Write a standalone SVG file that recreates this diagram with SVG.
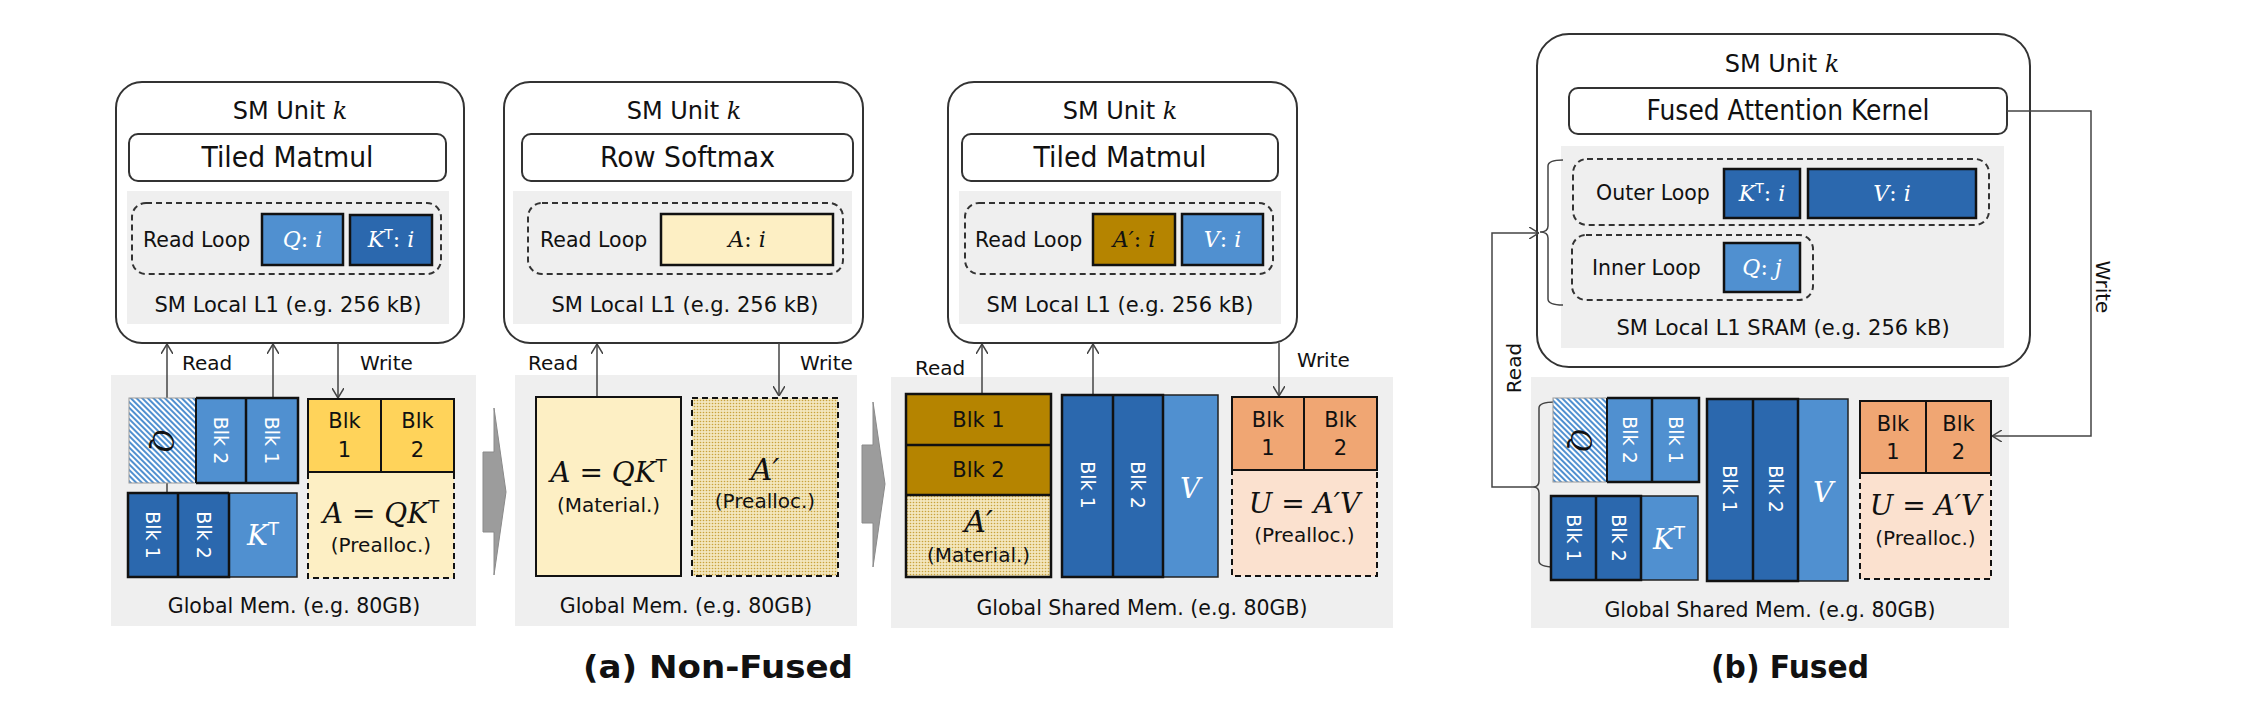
<svg xmlns="http://www.w3.org/2000/svg" width="2242" height="704" viewBox="0 0 2242 704">
<style>
.t{font-family:"DejaVu Sans","Liberation Sans",sans-serif;fill:#111}
.m{font-family:"DejaVu Serif","Liberation Serif",serif;fill:#111}
.i{font-style:italic}
.w{fill:#fff}
.sup{font-family:"DejaVu Sans","Liberation Sans",sans-serif;font-style:normal}
.sm{fill:#fff;stroke:#333;stroke-width:2}
.kern{fill:#fff;stroke:#333;stroke-width:2}
.l1{fill:#efefef}
.dash{fill:none;stroke:#333;stroke-width:2;stroke-dasharray:6 4}
.cell{stroke:#111;stroke-width:2.5}
.thin{stroke:#222;stroke-width:1.5}
.mid{fill:#5090d0}
.dark{fill:#2b68ae}
.gold{fill:#ffd35a}
.ly{fill:#fdefc4}
.brn{fill:#b58400}
.org{fill:#f0a673}
.pch{fill:#fbe1cf}
.conn{stroke:#444;stroke-width:1.5;fill:none}
.bigarrow{fill:#9c9c9c;stroke:#8a8a8a;stroke-width:1}
</style>
<defs>
<marker id="ah" viewBox="0 0 10 12" refX="10" refY="6" markerWidth="10" markerHeight="12" orient="auto" markerUnits="userSpaceOnUse">
<path d="M0,0 L10,6 L0,12" fill="none" stroke="#444" stroke-width="1.5"/>
</marker>
<pattern id="hatch" width="4" height="4" patternUnits="userSpaceOnUse" patternTransform="rotate(-45)">
<rect width="4" height="4" fill="#5090d0"/>
<rect width="2" height="4" fill="#fff"/>
</pattern>
<pattern id="dots" width="3" height="3" patternUnits="userSpaceOnUse">
<rect width="3" height="3" fill="#f3e6bd"/>
<circle cx="1.5" cy="1.5" r="0.8" fill="#c9a23c"/>
</pattern>
</defs>
<rect width="2242" height="704" fill="#fff"/>

<!-- ===== Panel 1 SM unit ===== -->
<g id="sm1">
<rect class="sm" x="116" y="82" width="348" height="261" rx="26"/>
<text class="t" x="290" y="119" font-size="24" text-anchor="middle">SM Unit <tspan class="m i">k</tspan></text>
<rect class="kern" x="129" y="134" width="317" height="47" rx="9"/>
<text class="t" x="287.5" y="167" font-size="29" text-anchor="middle" textLength="172" lengthAdjust="spacingAndGlyphs">Tiled Matmul</text>
<rect class="l1" x="127" y="191" width="322" height="133"/>
<rect class="dash" x="132" y="203" width="309" height="71" rx="14"/>
<text class="t" x="143" y="247" font-size="20.5">Read Loop</text>
<rect class="mid cell" x="262" y="214" width="81" height="51"/>
<text class="m w" x="302.5" y="247" font-size="22" text-anchor="middle"><tspan class="i">Q</tspan>: <tspan class="i">i</tspan></text>
<rect class="dark cell" x="350" y="215" width="82" height="50"/>
<text class="m w" x="391" y="247" font-size="22" text-anchor="middle"><tspan class="i">K</tspan><tspan class="sup" font-size="14" dy="-8">T</tspan><tspan dy="8">: </tspan><tspan class="i">i</tspan></text>
<text class="t" x="288" y="312" font-size="21" text-anchor="middle">SM Local L1 (e.g. 256 kB)</text>
</g>

<!-- ===== Panel 2 SM unit ===== -->
<g id="sm2">
<rect class="sm" x="504" y="82" width="359" height="261" rx="26"/>
<text class="t" x="684" y="119" font-size="24" text-anchor="middle">SM Unit <tspan class="m i">k</tspan></text>
<rect class="kern" x="522" y="134" width="331" height="47" rx="9"/>
<text class="t" x="687.5" y="167" font-size="29" text-anchor="middle" textLength="175" lengthAdjust="spacingAndGlyphs">Row Softmax</text>
<rect class="l1" x="513" y="191" width="339" height="133"/>
<rect class="dash" x="528" y="203" width="315" height="71" rx="14"/>
<text class="t" x="540" y="247" font-size="20.5">Read Loop</text>
<rect class="ly cell" x="661" y="214" width="172" height="51"/>
<text class="m" x="747" y="247" font-size="22" text-anchor="middle"><tspan class="i">A</tspan>: <tspan class="i">i</tspan></text>
<text class="t" x="685" y="312" font-size="21" text-anchor="middle">SM Local L1 (e.g. 256 kB)</text>
</g>

<!-- ===== Panel 3 SM unit ===== -->
<g id="sm3">
<rect class="sm" x="948" y="82" width="349" height="261" rx="26"/>
<text class="t" x="1120" y="119" font-size="24" text-anchor="middle">SM Unit <tspan class="m i">k</tspan></text>
<rect class="kern" x="962" y="134" width="316" height="47" rx="9"/>
<text class="t" x="1120" y="167" font-size="29" text-anchor="middle" textLength="173" lengthAdjust="spacingAndGlyphs">Tiled Matmul</text>
<rect class="l1" x="959" y="191" width="322" height="133"/>
<rect class="dash" x="965" y="203" width="308" height="71" rx="14"/>
<text class="t" x="975" y="247" font-size="20.5">Read Loop</text>
<rect class="brn cell" x="1093" y="214" width="82" height="51"/>
<text class="m" x="1134" y="247" font-size="22" text-anchor="middle"><tspan class="i">A′</tspan>: <tspan class="i">i</tspan></text>
<rect class="mid cell" x="1182" y="214" width="81" height="51"/>
<text class="m w" x="1222.5" y="247" font-size="22" text-anchor="middle"><tspan class="i">V</tspan>: <tspan class="i">i</tspan></text>
<text class="t" x="1120" y="312" font-size="21" text-anchor="middle">SM Local L1 (e.g. 256 kB)</text>
</g>

<!-- ===== Fused SM unit ===== -->
<g id="sm4">
<rect class="sm" x="1537" y="34" width="493" height="333" rx="32"/>
<text class="t" x="1782" y="72" font-size="24" text-anchor="middle">SM Unit <tspan class="m i">k</tspan></text>
<rect class="kern" x="1569" y="88" width="438" height="46" rx="9"/>
<text class="t" x="1788" y="120" font-size="28" text-anchor="middle" textLength="283" lengthAdjust="spacingAndGlyphs">Fused Attention Kernel</text>
<rect class="l1" x="1561" y="146" width="443" height="202"/>
<rect class="dash" x="1573" y="159" width="416" height="66" rx="14"/>
<text class="t" x="1596" y="200" font-size="20.5">Outer Loop</text>
<rect class="dark cell" x="1724" y="169" width="76" height="49"/>
<text class="m w" x="1762" y="201" font-size="22" text-anchor="middle"><tspan class="i">K</tspan><tspan class="sup" font-size="14" dy="-8">T</tspan><tspan dy="8">: </tspan><tspan class="i">i</tspan></text>
<rect class="dark cell" x="1808" y="169" width="168" height="49"/>
<text class="m w" x="1892" y="201" font-size="22" text-anchor="middle"><tspan class="i">V</tspan>: <tspan class="i">i</tspan></text>
<rect class="dash" x="1572" y="235" width="241" height="65" rx="14"/>
<text class="t" x="1592" y="275" font-size="20.5">Inner Loop</text>
<rect class="mid cell" x="1724" y="243" width="76" height="49"/>
<text class="m w" x="1762" y="275" font-size="22" text-anchor="middle"><tspan class="i">Q</tspan>: <tspan class="i">j</tspan></text>
<text class="t" x="1783" y="335" font-size="21" text-anchor="middle">SM Local L1 SRAM (e.g. 256 kB)</text>
</g>

<!-- ===== Global memory backgrounds ===== -->
<g id="gmem1">
<rect class="l1" x="111" y="375" width="365" height="251"/>
<text class="t" x="294" y="613" font-size="20.5" text-anchor="middle">Global Mem. (e.g. 80GB)</text>
</g>
<g id="gmem2">
<rect class="l1" x="515" y="375" width="342" height="251"/>
<text class="t" x="686" y="613" font-size="20.5" text-anchor="middle">Global Mem. (e.g. 80GB)</text>
</g>
<g id="gmem3">
<rect class="l1" x="891" y="377" width="502" height="251"/>
<text class="t" x="1142" y="615" font-size="20.5" text-anchor="middle">Global Shared Mem. (e.g. 80GB)</text>
</g>
<g id="gmem4">
<rect class="l1" x="1531" y="377" width="478" height="251"/>
<text class="t" x="1770" y="617" font-size="20.5" text-anchor="middle">Global Shared Mem. (e.g. 80GB)</text>
</g>

<!-- ===== Step arrows ===== -->
<g id="step1">
<polygon class="bigarrow" points="483,452 494,452 494,408 506,492 494,575 494,532 483,532"/>
</g>
<g id="step2">
<polygon class="bigarrow" points="862,445 873,445 873,402 885,484 873,567 873,523 862,523"/>
</g>

<!-- ===== Connectors ===== -->
<g id="connectors">
<line class="conn" x1="167" y1="493" x2="167" y2="344" marker-end="url(#ah)"/>
<line class="conn" x1="273" y1="398" x2="273" y2="344" marker-end="url(#ah)"/>
<line class="conn" x1="338" y1="343" x2="338" y2="398" marker-end="url(#ah)"/>
<text class="t" x="182" y="370" font-size="20">Read</text>
<text class="t" x="360" y="370" font-size="20">Write</text>

<line class="conn" x1="597" y1="397" x2="597" y2="344" marker-end="url(#ah)"/>
<line class="conn" x1="779" y1="343" x2="779" y2="396" marker-end="url(#ah)"/>
<text class="t" x="528" y="370" font-size="20">Read</text>
<text class="t" x="800" y="370" font-size="20">Write</text>

<line class="conn" x1="982" y1="394" x2="982" y2="344" marker-end="url(#ah)"/>
<line class="conn" x1="1093" y1="395" x2="1093" y2="344" marker-end="url(#ah)"/>
<line class="conn" x1="1279" y1="343" x2="1279" y2="396" marker-end="url(#ah)"/>
<text class="t" x="915" y="375" font-size="20">Read</text>
<text class="t" x="1297" y="367" font-size="20">Write</text>

<path class="conn" d="M1563,160 Q1548,160 1548,166 L1548,226 Q1548,232 1540,232 Q1548,232 1548,238 L1548,299 Q1548,305 1563,305"/>
<path class="conn" d="M1555,402 Q1539,402 1539,408 L1539,481 Q1539,487 1533,487 Q1539,487 1539,493 L1539,561 Q1539,567 1555,567"/>
<path class="conn" d="M1533,487 L1492,487 L1492,233 L1539,233" marker-end="url(#ah)"/>
<text class="t" font-size="20" text-anchor="middle" transform="translate(1521,368) rotate(-90)">Read</text>
<path class="conn" d="M2007,111 L2091,111 L2091,436 L1992,436" marker-end="url(#ah)"/>
<text class="t" font-size="20" text-anchor="middle" transform="translate(2096,287) rotate(90)">Write</text>
</g>

<!-- ===== Panel 1 memory blocks ===== -->
<g id="q1">
<rect x="129" y="398" width="67" height="85" fill="url(#hatch)" stroke="#999" stroke-width="1"/>
<rect class="mid" x="196" y="398" width="102" height="85"/>
<path d="M196,398 L298,398 L298,483 L196,483 M246,398 L246,483" fill="none" stroke="#111" stroke-width="2.5"/>
<line x1="196" y1="398" x2="196" y2="483" stroke="#111" stroke-width="2"/>
<text class="m i" font-size="28" text-anchor="middle" transform="translate(162.5,440.5) rotate(90)" dy="0.33em">Q</text>
<text class="t w" font-size="19" text-anchor="middle" transform="translate(221,440.5) rotate(90)" dy="0.35em">Blk 2</text>
<text class="t w" font-size="19" text-anchor="middle" transform="translate(272,440.5) rotate(90)" dy="0.35em">Blk 1</text>
</g>
<g id="k1">
<rect class="mid thin" x="229" y="493" width="68" height="84"/>
<rect class="dark" x="128" y="493" width="101" height="84"/>
<path d="M229,493 L128,493 L128,577 L229,577 L229,493 M178,493 L178,577" fill="none" stroke="#111" stroke-width="2.5"/>
<text class="t w" font-size="19" text-anchor="middle" transform="translate(153,535) rotate(90)" dy="0.35em">Blk 1</text>
<text class="t w" font-size="19" text-anchor="middle" transform="translate(203.5,535) rotate(90)" dy="0.35em">Blk 2</text>
<text class="m w" x="263" y="545" font-size="28" text-anchor="middle"><tspan class="i">K</tspan><tspan class="sup" font-size="18" dy="-10">T</tspan></text>
</g>
<g id="a1">
<rect class="ly" x="308" y="399" width="146" height="179" stroke="#111" stroke-width="2" stroke-dasharray="6 4"/>
<rect class="gold" x="308" y="399" width="146" height="73" stroke="#111" stroke-width="2"/>
<line x1="381" y1="399" x2="381" y2="472" stroke="#111" stroke-width="2"/>
<text class="t" x="344.5" y="428" font-size="21" text-anchor="middle">Blk</text>
<text class="t" x="344.5" y="457" font-size="21" text-anchor="middle">1</text>
<text class="t" x="417.5" y="428" font-size="21" text-anchor="middle">Blk</text>
<text class="t" x="417.5" y="457" font-size="21" text-anchor="middle">2</text>
<text class="m" x="381" y="523" font-size="28" text-anchor="middle"><tspan class="i">A</tspan> = <tspan class="i">QK</tspan><tspan class="sup" font-size="18" dy="-10">T</tspan></text>
<text class="t" x="381" y="552" font-size="20" text-anchor="middle">(Prealloc.)</text>
</g>

<!-- ===== Panel 2 memory blocks ===== -->
<g id="a2">
<rect class="ly" x="536" y="397" width="145" height="179" stroke="#111" stroke-width="2"/>
<text class="m" x="608.5" y="482" font-size="28" text-anchor="middle"><tspan class="i">A</tspan> = <tspan class="i">QK</tspan><tspan class="sup" font-size="18" dy="-10">T</tspan></text>
<text class="t" x="608.5" y="512" font-size="20" text-anchor="middle">(Material.)</text>
</g>
<g id="ap2">
<rect x="692" y="398" width="146" height="178" fill="url(#dots)" stroke="#111" stroke-width="2" stroke-dasharray="6 4"/>
<text class="m i" x="765" y="480" font-size="30" text-anchor="middle">A′</text>
<text class="t" x="765" y="508" font-size="20" text-anchor="middle">(Prealloc.)</text>
</g>

<!-- ===== Panel 3 memory blocks ===== -->
<g id="ap3">
<rect x="906" y="495" width="145" height="82" fill="url(#dots)"/>
<rect class="brn" x="906" y="394" width="145" height="101"/>
<path d="M906,394 L1051,394 L1051,577 L906,577 Z M906,445 L1051,445 M906,495 L1051,495" fill="none" stroke="#111" stroke-width="2.5"/>
<text class="t" x="978.5" y="427" font-size="21" text-anchor="middle">Blk 1</text>
<text class="t" x="978.5" y="477" font-size="21" text-anchor="middle">Blk 2</text>
<text class="m i" x="978.5" y="532" font-size="30" text-anchor="middle">A′</text>
<text class="t" x="978.5" y="562" font-size="20" text-anchor="middle">(Material.)</text>
</g>
<g id="v3">
<rect class="mid thin" x="1163" y="395" width="55" height="182"/>
<rect class="dark" x="1062" y="395" width="101" height="182"/>
<path d="M1163,395 L1062,395 L1062,577 L1163,577 Z M1113,395 L1113,577" fill="none" stroke="#111" stroke-width="2.5"/>
<text class="t w" font-size="19" text-anchor="middle" transform="translate(1087.5,485) rotate(90)" dy="0.35em">Blk 1</text>
<text class="t w" font-size="19" text-anchor="middle" transform="translate(1138,485) rotate(90)" dy="0.35em">Blk 2</text>
<text class="m i w" x="1190" y="498" font-size="28" text-anchor="middle">V</text>
</g>
<g id="u3">
<rect class="pch" x="1232" y="397" width="145" height="179" stroke="#111" stroke-width="2" stroke-dasharray="6 4"/>
<rect class="org" x="1232" y="397" width="145" height="73" stroke="#111" stroke-width="2"/>
<line x1="1304" y1="397" x2="1304" y2="470" stroke="#111" stroke-width="2"/>
<text class="t" x="1268" y="427" font-size="21" text-anchor="middle">Blk</text>
<text class="t" x="1268" y="455" font-size="21" text-anchor="middle">1</text>
<text class="t" x="1340.5" y="427" font-size="21" text-anchor="middle">Blk</text>
<text class="t" x="1340.5" y="455" font-size="21" text-anchor="middle">2</text>
<text class="m" x="1304.5" y="513" font-size="28" text-anchor="middle"><tspan class="i">U</tspan> = <tspan class="i">A′V</tspan></text>
<text class="t" x="1304.5" y="542" font-size="20" text-anchor="middle">(Prealloc.)</text>
</g>

<!-- ===== Fused memory blocks ===== -->
<g id="q4">
<rect x="1553" y="398" width="54" height="84" fill="url(#hatch)" stroke="#999" stroke-width="1"/>
<rect class="mid" x="1607" y="398" width="92" height="84"/>
<path d="M1607,398 L1699,398 L1699,482 L1607,482 M1652,398 L1652,482" fill="none" stroke="#111" stroke-width="2.5"/>
<line x1="1607" y1="398" x2="1607" y2="482" stroke="#111" stroke-width="2"/>
<text class="m i" font-size="28" text-anchor="middle" transform="translate(1580,440) rotate(90)" dy="0.33em">Q</text>
<text class="t w" font-size="19" text-anchor="middle" transform="translate(1629.5,440) rotate(90)" dy="0.35em">Blk 2</text>
<text class="t w" font-size="19" text-anchor="middle" transform="translate(1675.5,440) rotate(90)" dy="0.35em">Blk 1</text>
</g>
<g id="k4">
<rect class="mid thin" x="1641" y="496" width="57" height="84"/>
<rect class="dark" x="1551" y="496" width="90" height="84"/>
<path d="M1641,496 L1551,496 L1551,580 L1641,580 Z M1596,496 L1596,580" fill="none" stroke="#111" stroke-width="2.5"/>
<text class="t w" font-size="19" text-anchor="middle" transform="translate(1573.5,538) rotate(90)" dy="0.35em">Blk 1</text>
<text class="t w" font-size="19" text-anchor="middle" transform="translate(1618.5,538) rotate(90)" dy="0.35em">Blk 2</text>
<text class="m w" x="1669" y="549" font-size="28" text-anchor="middle"><tspan class="i">K</tspan><tspan class="sup" font-size="18" dy="-10">T</tspan></text>
</g>
<g id="v4">
<rect class="mid thin" x="1798" y="399" width="50" height="182"/>
<rect class="dark" x="1707" y="399" width="91" height="182"/>
<path d="M1798,399 L1707,399 L1707,581 L1798,581 Z M1753,399 L1753,581" fill="none" stroke="#111" stroke-width="2.5"/>
<text class="t w" font-size="19" text-anchor="middle" transform="translate(1730,489) rotate(90)" dy="0.35em">Blk 1</text>
<text class="t w" font-size="19" text-anchor="middle" transform="translate(1775.5,489) rotate(90)" dy="0.35em">Blk 2</text>
<text class="m i w" x="1823" y="502" font-size="28" text-anchor="middle">V</text>
</g>
<g id="u4">
<rect class="pch" x="1860" y="401" width="131" height="178" stroke="#111" stroke-width="2" stroke-dasharray="6 4"/>
<rect class="org" x="1860" y="401" width="131" height="72" stroke="#111" stroke-width="2"/>
<line x1="1926" y1="401" x2="1926" y2="473" stroke="#111" stroke-width="2"/>
<text class="t" x="1893" y="431" font-size="21" text-anchor="middle">Blk</text>
<text class="t" x="1893" y="459" font-size="21" text-anchor="middle">1</text>
<text class="t" x="1958.5" y="431" font-size="21" text-anchor="middle">Blk</text>
<text class="t" x="1958.5" y="459" font-size="21" text-anchor="middle">2</text>
<text class="m" x="1925.5" y="515" font-size="28" text-anchor="middle"><tspan class="i">U</tspan> = <tspan class="i">A′V</tspan></text>
<text class="t" x="1925.5" y="545" font-size="20" text-anchor="middle">(Prealloc.)</text>
</g>

<!-- ===== Captions ===== -->
<g id="captions">
<text class="t" x="718" y="678" font-size="32" font-weight="bold" text-anchor="middle" textLength="270" lengthAdjust="spacingAndGlyphs">(a) Non-Fused</text>
<text class="t" x="1790" y="678" font-size="32" font-weight="bold" text-anchor="middle" textLength="158" lengthAdjust="spacingAndGlyphs">(b) Fused</text>
</g>
</svg>
